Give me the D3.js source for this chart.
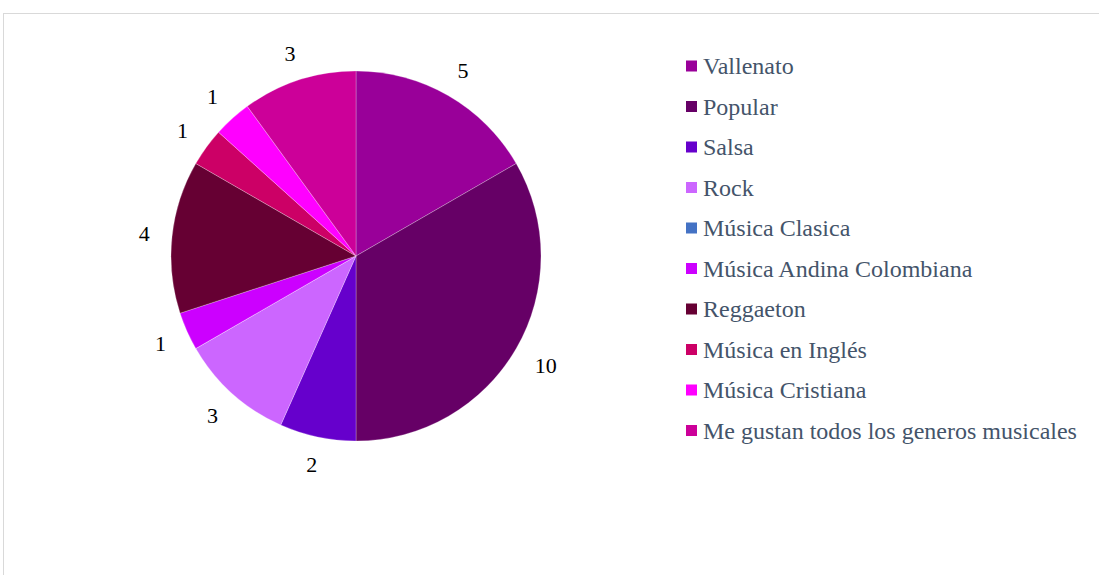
<!DOCTYPE html>
<html>
<head>
<meta charset="utf-8">
<script src="https://cdn.jsdelivr.net/npm/d3@7/dist/d3.min.js"></script>
<style>
  body { margin: 0; background: #fff; }
  svg { display: block; }
</style>
</head>
<body>
<div id="chart"></div>
<script>
// genres and counts
var genres = ['Vallenato', 'Popular', 'Salsa', 'Rock', 'Música Clasica', 'Música Andina Colombiana',
              'Reggaeton', 'Música en Inglés', 'Música Cristiana', 'Me gustan todos los generos musicales'];
var counts = [5, 10, 2, 3, 0, 1, 4, 1, 1, 3];
var colors = ['#990099', '#660066', '#6600cc', '#cc66ff', '#4472c4', '#cc00ff',
              '#660033', '#cc0066', '#ff00ff', '#cc0099'];

var width = 1099, height = 575;
var cx = 356, cy = 256, radius = 185;
var serif = 'Liberation Serif';

var svg = d3.select('#chart').append('svg')
    .attr('width', width)
    .attr('height', height);

// chart frame (only top and left edges show)
svg.append('rect')
    .attr('x', 3.5).attr('y', 13.5)
    .attr('width', width + 20).attr('height', height + 20)
    .style('fill', 'none')
    .style('stroke', '#d9d9d9')
    .style('stroke-width', 1);

var data = genres.map(function(g, i) { return {genre: g, value: counts[i], color: colors[i]}; });

var pie = d3.pie().sort(null).value(function(d) { return d.value; });
var arc = d3.arc().innerRadius(0).outerRadius(radius);

var g = svg.append('g').attr('transform', 'translate(' + cx + ',' + cy + ')');

var arcs = pie(data);

g.selectAll('path.slice').data(arcs).enter().append('path')
    .attr('class', 'slice')
    .attr('d', arc)
    .style('fill', function(d) { return d.data.color; })
    .style('stroke', '#ffffff')
    .style('stroke-opacity', 0.5)
    .style('stroke-width', 0.5);

// value labels outside the slices, pushed out by their own size (like Excel "outside end")
var labels = g.selectAll('text.lbl').data(arcs.filter(function(d) { return d.data.value > 0; })).enter().append('text')
    .attr('class', 'lbl')
    .attr('text-anchor', 'middle')
    .attr('dominant-baseline', 'central')
    .attr('font-family', serif)
    .attr('font-size', 22)
    .attr('fill', '#000')
    .text(function(d) { return d.data.value; });

labels.each(function(d) {
    var a = (d.startAngle + d.endAngle) / 2;
    var w = this.getComputedTextLength();
    var r = 207 + 0.5 * w * Math.abs(Math.sin(a)) + 5 * Math.abs(Math.cos(a));
    d3.select(this)
        .attr('x', r * Math.sin(a))
        .attr('y', -r * Math.cos(a));
});

// legend
var legend = svg.append('g').attr('transform', 'translate(686,66)');
var rowStep = 40.5;

var rows = legend.selectAll('g.row').data(data).enter().append('g')
    .attr('class', 'row')
    .attr('transform', function(d, i) { return 'translate(0,' + (i * rowStep) + ')'; });

rows.append('rect')
    .attr('x', 0).attr('y', -5.5)
    .attr('width', 11).attr('height', 11)
    .style('fill', function(d) { return d.color; });

rows.append('text')
    .attr('x', 17)
    .attr('y', 0)
    .attr('dominant-baseline', 'central')
    .attr('font-family', serif)
    .attr('font-size', 24)
    .attr('fill', '#44546a')
    .text(function(d) { return d.genre; });
</script>
</body>
</html>
